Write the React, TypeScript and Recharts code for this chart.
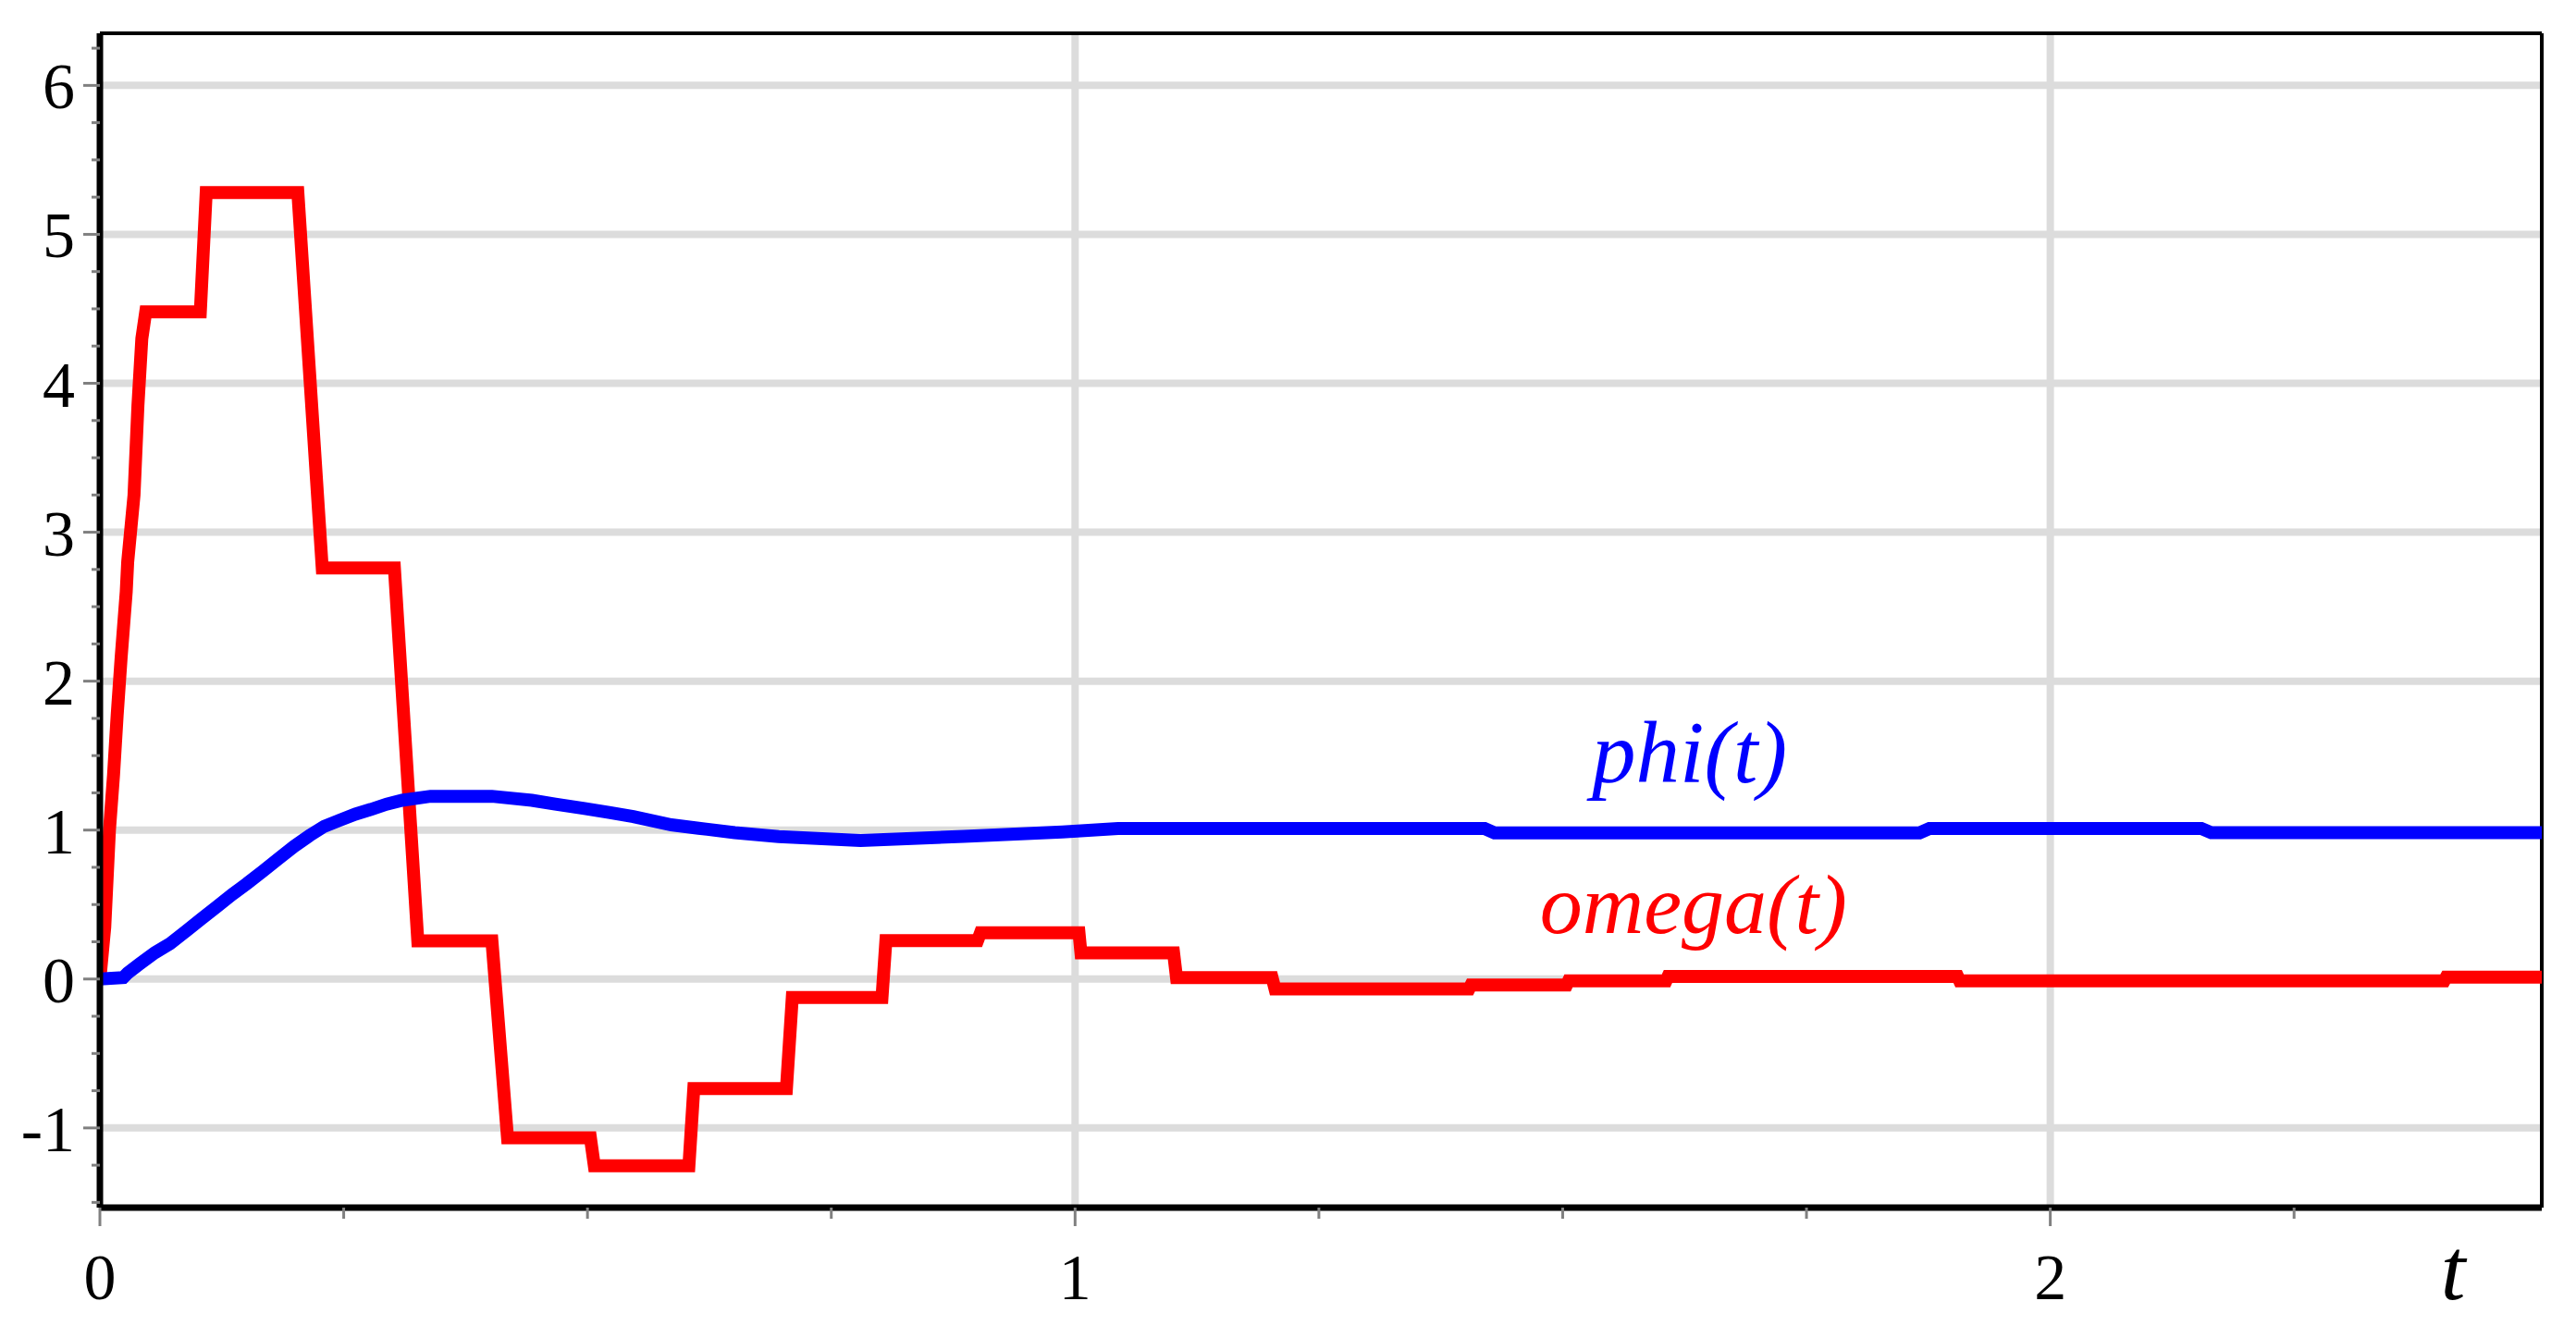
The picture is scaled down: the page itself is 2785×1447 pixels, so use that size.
import React from "react";
import {
  LineChart,
  Line,
  XAxis,
  YAxis,
  CartesianGrid,
  ReferenceLine,
  ReferenceDot,
} from "recharts";

// omega(t): held value per 0.1 s sample, with the short ramps between them
const omegaT = [
  0, 0.005, 0.0098, 0.014, 0.0177, 0.0218, 0.027, 0.0285, 0.035, 0.039,
  0.043, 0.047, 0.103, 0.109, 0.203, 0.228, 0.302, 0.326, 0.402, 0.418,
  0.503, 0.507, 0.604, 0.609, 0.704, 0.71, 0.802, 0.806, 0.9, 0.903,
  1.004, 1.006, 1.101, 1.104, 1.202, 1.205, 1.404, 1.406, 1.504, 1.506,
  1.606, 1.608, 1.905, 1.907, 2.404, 2.406, 2.504,
];
const omegaV = [
  0, 0.35, 1.0, 1.37, 1.77, 2.16, 2.6, 2.8, 3.25, 3.85,
  4.3, 4.48, 4.48, 5.28, 5.28, 2.76, 2.76, 0.256, 0.256, -1.067,
  -1.067, -1.254, -1.254, -0.736, -0.736, -0.124, -0.124, 0.258, 0.258, 0.31,
  0.31, 0.176, 0.176, 0.01, 0.01, -0.066, -0.066, -0.04, -0.04, -0.012,
  -0.012, 0.017, 0.017, -0.012, -0.012, 0.012, 0.012,
];

// phi(t)
const phiT = [
  0, 0.024, 0.0285, 0.0405, 0.0563, 0.072, 0.088, 0.104, 0.12, 0.136,
  0.151, 0.167, 0.183, 0.199, 0.215, 0.23, 0.246, 0.262, 0.278, 0.294,
  0.31, 0.339, 0.402, 0.443, 0.467, 0.497, 0.522, 0.547, 0.586, 0.614,
  0.651, 0.696, 0.78, 0.886, 0.987, 1.044, 1.42, 1.43, 1.866, 1.876,
  2.155, 2.165, 2.504,
];
const phiV = [
  0, 0.01, 0.04, 0.1, 0.176, 0.238, 0.32, 0.403, 0.486, 0.569,
  0.642, 0.724, 0.807, 0.89, 0.963, 1.025, 1.066, 1.107, 1.139, 1.174,
  1.2, 1.227, 1.227, 1.2, 1.174, 1.145, 1.118, 1.09, 1.035, 1.012,
  0.983, 0.956, 0.93, 0.958, 0.987, 1.01, 1.01, 0.981, 0.981, 1.01,
  1.01, 0.983, 0.983,
];

const xTicks = [0, 0.25, 0.5, 0.75, 1, 1.25, 1.5, 1.75, 2, 2.25];
const xLabels = [0, 1, 2];
const yTicks = [
  -1.5, -1.25, -1, -0.75, -0.5, -0.25, 0, 0.25, 0.5, 0.75, 1, 1.25, 1.5, 1.75,
  2, 2.25, 2.5, 2.75, 3, 3.25, 3.5, 3.75, 4, 4.25, 4.5, 4.75, 5, 5.25, 5.5,
  5.75, 6, 6.25,
];
const yLabels = [-1, 0, 1, 2, 3, 4, 5, 6];

const omegaData = omegaT.map((t, i) => ({ t, v: omegaV[i] }));
const phiData = phiT.map((t, i) => ({ t, v: phiV[i] }));

const SERIF = '"Liberation Serif", "DejaVu Serif", serif';
const TICK_GREY = "#808080";

function YTick(props: any) {
  const { x, y, payload } = props;
  const v = payload.value;
  const major = yLabels.includes(v);
  return (
    <g>
      <line x1={x - (major ? 18 : 9)} x2={x} y1={y} y2={y} stroke={TICK_GREY} strokeWidth={3} />
      {major && (
        <text x={x - 27} y={y} dy={25} textAnchor="end" fontSize={70} fontFamily={SERIF} fill="#000">
          {String(v)}
        </text>
      )}
    </g>
  );
}

function XTick(props: any) {
  const { x, y, payload } = props;
  const v = payload.value;
  const major = xLabels.includes(v);
  return (
    <g>
      <line x1={x} x2={x} y1={y} y2={y + (major ? 20 : 12)} stroke={TICK_GREY} strokeWidth={3} />
      {major && (
        <text x={x} y={y + 99} textAnchor="middle" fontSize={70} fontFamily={SERIF} fill="#000">
          {String(v)}
        </text>
      )}
    </g>
  );
}

function AxisName(props: any) {
  const { viewBox } = props;
  return (
    <text
      x={viewBox.x + viewBox.width - 96}
      y={viewBox.y + 99}
      textAnchor="middle"
      fontSize={96}
      fontStyle="italic"
      fontFamily={SERIF}
      fill="#000"
    >
      t
    </text>
  );
}

export default function App() {
  return (
    <div style={{ width: 2770, height: 1430, background: "#fff" }}>
      <LineChart width={2770} height={1430} margin={{ top: 28, right: 30, bottom: 0, left: 0 }}>
        <CartesianGrid
          horizontalValues={yLabels}
          verticalValues={[1, 2]}
          stroke="#dcdcdc"
          strokeWidth={8}
        />
        <XAxis
          dataKey="t"
          type="number"
          domain={[0, 2.504]}
          allowDataOverflow
          ticks={xTicks}
          interval={0}
          tick={(p: any) => <XTick {...p} />}
          tickLine={false}
          tickSize={0}
          tickMargin={0}
          height={132}
          axisLine={{ stroke: "#000", strokeWidth: 7 }}
          label={{ content: (p: any) => <AxisName {...p} /> }}
        />
        <YAxis
          type="number"
          domain={[-1.535, 6.35]}
          allowDataOverflow
          ticks={yTicks}
          interval={0}
          tick={(p: any) => <YTick {...p} />}
          tickLine={false}
          tickSize={0}
          tickMargin={0}
          width={100}
          axisLine={{ stroke: "#000", strokeWidth: 7 }}
        />
        <ReferenceLine y={6.35} stroke="#000" strokeWidth={4} ifOverflow="visible" />
        <ReferenceLine x={2.504} stroke="#000" strokeWidth={4} ifOverflow="visible" />
        <Line
          data={omegaData}
          dataKey="v"
          type="linear"
          stroke="#ff0000"
          strokeWidth={14}
          strokeLinejoin="miter"
          dot={false}
          activeDot={false}
          isAnimationActive={false}
        />
        <Line
          data={phiData}
          dataKey="v"
          type="linear"
          stroke="#0000ff"
          strokeWidth={14}
          strokeLinejoin="miter"
          dot={false}
          activeDot={false}
          isAnimationActive={false}
        />
        <ReferenceDot
          x={1.63}
          y={1.53}
          r={0}
          fill="none"
          stroke="none"
          ifOverflow="visible"
          label={{
            value: "phi(t)",
            position: "center",
            fill: "#0000ff",
            fontSize: 95,
            fontStyle: "italic",
            fontFamily: SERIF,
          }}
        />
        <ReferenceDot
          x={1.634}
          y={0.511}
          r={0}
          fill="none"
          stroke="none"
          ifOverflow="visible"
          label={{
            value: "omega(t)",
            position: "center",
            fill: "#ff0000",
            fontSize: 92,
            fontStyle: "italic",
            fontFamily: SERIF,
          }}
        />
      </LineChart>
    </div>
  );
}
